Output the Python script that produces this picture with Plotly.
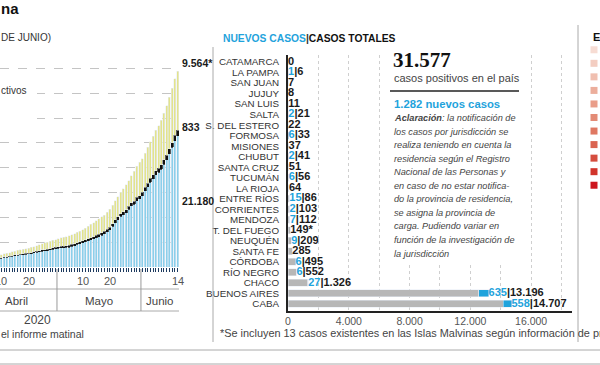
import plotly.graph_objects as go

W, H = 600, 365

# ---------------- Left chart: cumulative cases (Apr 9 .. Jun 14), index: Apr 1 = 0
day_index = list(range(8, 75))
total_cases = [1894, 1975, 2142, 2208, 2277, 2443, 2571, 2669, 2758, 2839, 2941, 3031, 3144, 3288,
               3435, 3607, 3780, 3892, 4003, 4127, 4285, 4428,
               4532, 4681, 4783, 4887, 5020, 5208, 5371, 5611, 5776, 6034, 6278, 6563, 6879, 7134,
               7479, 7805, 8068, 8371, 8809, 9283, 9931, 10649, 11353, 12076, 12628, 13228, 13933,
               14702, 15419, 16214, 16838,
               17415, 18319, 19268, 20197, 21037, 22020, 22794, 23620, 24761, 25987, 27373, 28764,
               30295, 31577]
deaths = [84, 90, 95, 98, 102, 108, 122, 129, 132, 136, 137, 147, 152, 165, 176, 185, 192, 197,
          207, 214, 218, 225,
          237, 246, 260, 264, 273, 282, 293, 300, 305, 306, 314, 319, 329, 353, 356, 363, 373, 382,
          393, 403, 416, 433, 445, 452, 467, 484, 500, 508, 520, 528, 539,
          556, 569, 583, 608, 632, 648, 664, 693, 717, 735, 765, 785, 815, 833]
recovered = [440, 468, 500, 525, 550, 596, 628, 656, 685, 709, 737, 784, 840, 860, 880, 976, 1030,
             1090, 1140, 1170, 1220, 1245,
             1300, 1354, 1415, 1480, 1524, 1580, 1620, 1680, 1740, 1837, 1910, 2020, 2180, 2266,
             2385, 2534, 2569, 2625, 2742, 2872, 2933, 3063, 3290, 3460, 3732, 3999, 4167, 4349,
             4788, 5002, 5323,
             5381, 5489, 5736, 5896, 6180, 6530, 6876, 7146, 7471, 7991, 8325, 8722, 9107, 9564]
active = [t - d - r for t, d, r in zip(total_cases, deaths, recovered)]

day_tickvals = [9, 19, 39, 49, 74]
day_ticktext = ["10", "20", "10", "20", "14"]
months = ["Abril", "Mayo", "Junio"]
month_centers = [14.5, 45, 67.5]
month_bounds = [29.5, 60.5]

# ---------------- Middle chart: cases by province
provinces = ["CATAMARCA", "LA PAMPA", "SAN JUAN", "JUJUY", "SAN LUIS", "SALTA", "S. DEL ESTERO",
             "FORMOSA", "MISIONES", "CHUBUT", "SANTA CRUZ", "TUCUMÁN", "LA RIOJA", "ENTRE RÍOS",
             "CORRIENTES", "MENDOZA", "T. DEL FUEGO", "NEUQUÉN", "SANTA FE", "CÓRDOBA",
             "RÍO NEGRO", "CHACO", "BUENOS AIRES", "CABA"]
total_prov = [0, 6, 7, 8, 11, 21, 22, 33, 37, 41, 51, 56, 64, 86, 103, 112, 149, 209, 285, 495,
              552, 1326, 13196, 14707]
new_prov = [0, 1, 0, 0, 0, 2, 0, 6, 0, 2, 0, 6, 0, 15, 2, 7, 0, 9, 0, 6, 6, 27, 635, 558]
prov_marks = ["", "", "", "", "", "", "", "", "", "", "", "", "", "", "", "", "*", "", "", "", "",
              "", "", ""]
x_ticks_mid = [0, 4000, 8000, 12000, 16000]

# ---------------- Right legend swatches
swatch_colors = ["#f7dcd3", "#f3cdc1", "#f0bfb0", "#ecae9c", "#e99d89", "#e38b76", "#df7862",
                 "#da6350", "#d54d3e", "#d1342b", "#cc161e"]

BLUE = "#8bcfea"
YELLOW = "#e3e38c"
CYAN = "#1fa3dc"
GRAYBAR = "#b7b7b7"
SANS = "Liberation Sans, Arial, sans-serif"
SERIF = "Liberation Serif, DejaVu Serif, serif"


def fmt(v):
    return f"{v:,}".replace(",", ".")


def px(x):
    return x / W


def py(y):
    return 1 - y / H


fig = go.Figure()

# left stacked bars
fig.add_trace(go.Bar(x=day_index, y=active, marker_color=BLUE, width=0.74,
                     xaxis="x", yaxis="y", hoverinfo="skip"))
fig.add_trace(go.Bar(x=day_index, y=deaths, marker=dict(color="#111", line=dict(color="#111", width=0.7)),
                     width=0.74, xaxis="x", yaxis="y", hoverinfo="skip"))
fig.add_trace(go.Bar(x=day_index, y=recovered, marker_color=YELLOW, width=0.74,
                     xaxis="x", yaxis="y", hoverinfo="skip"))

# middle horizontal bars
idx = list(range(len(provinces)))
prev_prov = [t - n for t, n in zip(total_prov, new_prov)]
fig.add_trace(go.Bar(y=idx, x=prev_prov, orientation="h", marker_color=GRAYBAR, width=0.66,
                     xaxis="x2", yaxis="y2", hoverinfo="skip"))
fig.add_trace(go.Bar(y=idx, x=new_prov, orientation="h", marker_color=CYAN, width=0.66,
                     xaxis="x2", yaxis="y2", hoverinfo="skip"))
labels = []
for t, n, m in zip(total_prov, new_prov, prov_marks):
    if n > 0:
        labels.append(f'<b><span style="color:{CYAN}">{fmt(n)}</span>|{fmt(t)}{m}</b>')
    else:
        labels.append(f"<b>{fmt(t)}{m}</b>")
fig.add_trace(go.Scatter(x=total_prov, y=idx, mode="text", text=labels, textposition="middle right",
                         textfont=dict(family=SANS, size=11, color="#1a1a1a"),
                         xaxis="x2", yaxis="y2", cliponaxis=False, hoverinfo="skip"))

# right swatches
fig.add_trace(go.Scatter(x=[0] * len(swatch_colors), y=list(range(len(swatch_colors))), mode="markers",
                         marker=dict(symbol="square", size=7, color=swatch_colors),
                         xaxis="x3", yaxis="y3", cliponaxis=False, hoverinfo="skip"))

fig.update_layout(
    width=W, height=H, autosize=False, margin=dict(l=0, r=0, t=0, b=0, autoexpand=False),
    paper_bgcolor="white", plot_bgcolor="rgba(0,0,0,0)", showlegend=False,
    barmode="stack", separators=",.",
    xaxis=dict(domain=[0, px(179)], anchor="y", range=[8.47, 74.55], tickmode="array",
               tickvals=day_tickvals, ticktext=day_ticktext, ticks="outside", ticklen=4,
               tickcolor="#1d3a5f", tickwidth=1, showticklabels=False, automargin=False,
               minor=dict(dtick=1, tick0=0, ticks="outside", ticklen=4,
                          tickcolor="#1d3a5f", tickwidth=1),
               showgrid=False, zeroline=False, showline=False),
    yaxis=dict(domain=[py(267), py(60)], anchor="x", range=[0, 33350], dtick=4000, showticklabels=False,
               showgrid=True, gridcolor="#c4c4c4", griddash="dash", gridwidth=1, automargin=False,
               zeroline=False, showline=False),
    xaxis2=dict(domain=[px(288), px(572)], anchor="y2", range=[0, 18687], tickmode="array",
                tickvals=x_ticks_mid, ticktext=[fmt(v) for v in x_ticks_mid], ticks="",
                tickfont=dict(family=SANS, size=10.5, color="#555"), automargin=False,
                showgrid=True, gridcolor="#cfcfcf", griddash="dot", gridwidth=1,
                minor=dict(dtick=2000, tick0=0, showgrid=True, gridcolor="#cfcfcf", griddash="dot"),
                zeroline=False, showline=True, linecolor="#222", linewidth=1.5),
    yaxis2=dict(domain=[py(311), py(55)], anchor="x2", range=[23.67, -0.66], tickmode="array",
                tickvals=idx, ticktext=provinces, ticks="", ticklabelstandoff=5, automargin=False,
                tickfont=dict(family=SANS, size=9.8, color="#333"),
                showgrid=False, zeroline=False, showline=True, linecolor="#222", linewidth=2),
    xaxis3=dict(domain=[px(588), 1], anchor="y3", range=[-1, 1], visible=False),
    yaxis3=dict(domain=[py(192), py(43)], anchor="x3", range=[10.5, -0.5], visible=False),
)

shapes = []
# white panel behind text box and legend
shapes.append(dict(type="rect", xref="paper", yref="paper", x0=px(384), x1=px(528), y0=py(262), y1=py(45),
                   fillcolor="white", line=dict(width=0), layer="above"))
shapes.append(dict(type="rect", xref="paper", yref="paper", x0=0, x1=px(37), y0=py(125), y1=py(82),
                   fillcolor="white", line=dict(width=0), layer="above"))
# underline of total
shapes.append(dict(type="line", xref="paper", yref="paper", x0=px(390), x1=px(519), y0=py(91), y1=py(91),
                   line=dict(color="#222", width=1.5)))
# left chart table lines
for yy in (289, 311):
    shapes.append(dict(type="line", xref="paper", yref="paper", x0=0, x1=px(179), y0=py(yy), y1=py(yy),
                       line=dict(color="#aaa", width=1)))
for b in month_bounds:
    shapes.append(dict(type="line", xref="x", yref="paper", x0=b, x1=b, y0=py(311), y1=py(269),
                       line=dict(color="#999", width=1)))
# panel separators
shapes.append(dict(type="line", xref="paper", yref="paper", x0=px(213), x1=px(213), y0=py(342), y1=py(47),
                   line=dict(color="#aaa", width=1)))
shapes.append(dict(type="line", xref="paper", yref="paper", x0=px(578), x1=px(578), y0=py(342), y1=py(25),
                   line=dict(color="#aaa", width=1)))
for yy in (350, 364):
    shapes.append(dict(type="line", xref="paper", yref="paper", x0=0, x1=1, y0=py(yy), y1=py(yy),
                       line=dict(color="#aaa", width=1)))
fig.update_layout(shapes=shapes)

ann = []


def A(text, x, y, size=11, color="#333", family=SANS, xanchor="left", yanchor="middle", **kw):
    ann.append(dict(text=text, x=px(x), y=py(y), xref="paper", yref="paper", showarrow=False,
                    xanchor=xanchor, yanchor=yanchor, font=dict(size=size, color=color, family=family), **kw))


# left chart texts (fragments cut at the left edge)
A("<b>na</b>", -1, 8, size=15, color="#111")
A("DE JUNIO)", -1, 37, size=10, color="#333")
A("ctivos", -1, 90, size=10, color="#333")
A("2020", 37, 320, size=12, color="#444", xanchor="center")
A("el informe matinal", -1, 334, size=10.5, color="#444")
# day labels placed on the x axis scale
for v, t in zip(day_tickvals, day_ticktext):
    ann.append(dict(text=t, x=v, y=py(281), xref="x", yref="paper", showarrow=False,
                    xanchor="center", yanchor="middle", font=dict(size=11, color="#555", family=SANS)))
for m, c in zip(months, month_centers):
    ann.append(dict(text=m, x=c, y=py(301), xref="x", yref="paper", showarrow=False,
                    xanchor="center", yanchor="middle", font=dict(size=11.5, color="#444", family=SANS)))
last = len(day_index) - 1
ann.append(dict(text=f"<b>{fmt(recovered[last])}*</b>", x=day_index[last], y=total_cases[last],
                xref="x", yref="y", showarrow=False, xanchor="left", yanchor="bottom", xshift=2, yshift=0,
                font=dict(size=10.5, color="#1a1a1a", family=SANS)))
ann.append(dict(text=f"<b>{fmt(deaths[last])}</b>", x=day_index[last], y=active[last] + deaths[last],
                xref="x", yref="y", showarrow=False, xanchor="left", yanchor="middle", xshift=2, yshift=3,
                font=dict(size=10.5, color="#1a1a1a", family=SANS)))
ann.append(dict(text=f"<b>{fmt(active[last])}</b>", x=day_index[last], y=active[last] / 2,
                xref="x", yref="y", showarrow=False, xanchor="left", yanchor="middle", xshift=2,
                font=dict(size=10.5, color="#1a1a1a", family=SANS)))

# middle header and text box
A(f'<b><span style="color:{CYAN}">NUEVOS CASOS</span><span style="color:#333">|</span>CASOS TOTALES</b>',
  221, 38, size=10.3, color="#111")
A(f"<b>{fmt(total_cases[last])}</b>", 391, 60, size=21, color="#111", family=SERIF)
A("casos positivos en el país", 392, 78, size=11, color="#444")
A(f"<b>{fmt(sum(new_prov))} nuevos casos</b>", 392, 104, size=11.3, color=CYAN)
para = ["<b>Aclaración</b>: la notificación de",
        "los casos por jurisdicción se",
        "realiza teniendo en cuenta la",
        "residencia según el Registro",
        "Nacional de las Personas y",
        "en caso de no estar notifica-",
        "do la provincia de residencia,",
        "se asigna la provincia de",
        "carga. Pudiendo variar en",
        "función de la investigación de",
        "la jurisdicción"]
for i, line in enumerate(para):
    A(f"<i>{line}</i>", 392, 118 + i * 13.55, size=9.2, color="#444")

A("*Se incluyen 13 casos existentes en las Islas Malvinas según información de pr", 218, 333,
  size=10.9, color="#444")
A("<b>E</b>", 591, 37, size=11, color="#111")

fig.update_layout(annotations=ann)
fig.write_html("out.html", config={"displayModeBar": False, "staticPlot": True},
               post_script="document.body.style.margin='0px';document.body.style.padding='0px';")
